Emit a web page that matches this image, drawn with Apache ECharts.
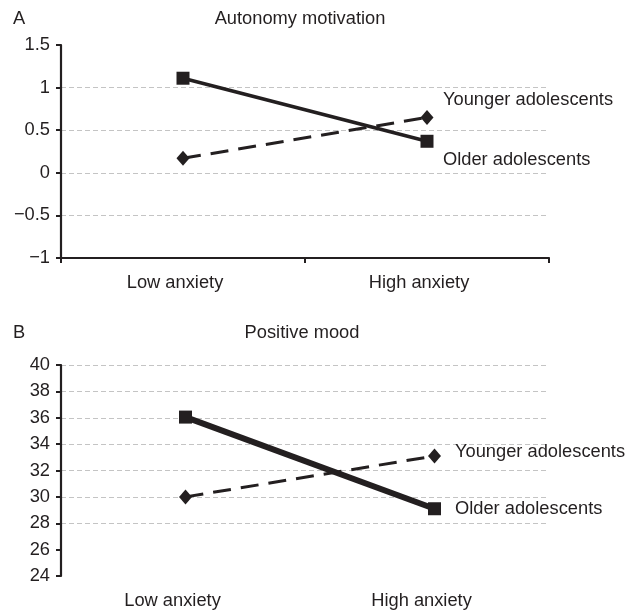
<!DOCTYPE html>
<html>
<head>
<meta charset="utf-8">
<script src="https://cdn.jsdelivr.net/npm/echarts@6/dist/echarts.min.js"></script>
<style>html,body{margin:0;padding:0;background:#fff;}#c{width:639px;height:612px;}</style>
</head>
<body>
<div id="c"></div>
<script>
// ---- data ----
const categories = ['Low anxiety', 'High anxiety'];
const seriesNames = ['Younger adolescents', 'Older adolescents'];
const panelATitle = 'Autonomy motivation';
const panelBTitle = 'Positive mood';
const autonomyYounger = [0.17, 0.65];
const autonomyOlder = [1.11, 0.37];
const moodYounger = [30.0, 33.1];
const moodOlder = [36.05, 29.1];
const autonomyTicks = { min: -1, max: 1.5, interval: 0.5 };
const autonomyGridlines = { min: -0.5, max: 1, interval: 0.5 };
const moodTicks = { min: 24, max: 40, interval: 2 };
const moodGridlines = { min: 28, max: 40, interval: 2 };

// ---- styling ----
const INK = '#231f20';
const FONT = 'Liberation Sans, Arial, sans-serif';
const FS = 18.3;
const fmtNum = v => String(v).replace('-', '\u2212');

function lineLabel(distance, dy) {
  return {
    show: true, position: 'right', distance: distance, offset: [0, dy],
    color: INK, fontFamily: FONT, fontSize: FS,
    formatter: p => p.dataIndex === categories.length - 1 ? p.seriesName : ''
  };
}

const chart = echarts.init(document.getElementById('c'), null, { renderer: 'canvas' });

const pxA = 85.2;   // px per unit panel A
const pxB = 13.1875; // px per unit panel B
const titleStyle = { fontSize: FS, fontWeight: 'normal', color: INK, fontFamily: FONT };

const option = {
  animation: false,
  backgroundColor: '#fff',
  textStyle: { fontFamily: FONT, color: INK },
  title: [
    { text: 'A', left: 13, top: 10, padding: 0, textStyle: titleStyle },
    { text: panelATitle, left: 300, top: 10, padding: 0, textAlign: 'center', textStyle: titleStyle },
    { text: 'B', left: 13, top: 324, padding: 0, textStyle: titleStyle },
    { text: panelBTitle, left: 302, top: 324, padding: 0, textAlign: 'center', textStyle: titleStyle }
  ],
  grid: [
    { left: 61, top: 45, width: 488, height: 213, containLabel: false },
    { left: 61, top: 365, width: 498, height: 211, containLabel: false },
    { left: 61, top: 45 + (autonomyTicks.max - autonomyGridlines.max) * pxA, width: 487, height: (autonomyGridlines.max - autonomyGridlines.min) * pxA },
    { left: 61, top: 365 + (moodTicks.max - moodGridlines.max) * pxB, width: 487, height: (moodGridlines.max - moodGridlines.min) * pxB }
  ],
  xAxis: [
    {
      gridIndex: 0, type: 'category', data: categories, boundaryGap: true,
      axisLine: { show: true, onZero: false, lineStyle: { color: INK, width: 2.2 } },
      axisTick: { show: true, length: 5, lineStyle: { color: INK, width: 2 } },
      axisLabel: { color: INK, fontSize: FS, fontFamily: FONT, margin: 16, padding: [0, 16, 0, 0] },
      splitLine: { show: false }
    },
    {
      gridIndex: 1, type: 'category', data: categories, boundaryGap: true,
      axisLine: { show: false, onZero: false }, axisTick: { show: false },
      axisLabel: { color: INK, fontSize: FS, fontFamily: FONT, margin: 16, padding: [0, 26, 0, 0] },
      splitLine: { show: false }
    },
    { gridIndex: 2, type: 'value', show: false, min: 0, max: 1 },
    { gridIndex: 3, type: 'value', show: false, min: 0, max: 1 }
  ],
  yAxis: [
    {
      gridIndex: 0, type: 'value', min: autonomyTicks.min, max: autonomyTicks.max, interval: autonomyTicks.interval,
      axisLine: { show: true, onZero: false, lineStyle: { color: INK, width: 2.2 } },
      axisTick: { show: true, length: 5, lineStyle: { color: INK, width: 2 } },
      axisLabel: { color: INK, fontSize: FS, fontFamily: FONT, margin: 11, formatter: fmtNum },
      splitLine: { show: false }
    },
    {
      gridIndex: 1, type: 'value', min: moodTicks.min, max: moodTicks.max, interval: moodTicks.interval,
      axisLine: { show: true, onZero: false, lineStyle: { color: INK, width: 2.2 } },
      axisTick: { show: true, length: 5, lineStyle: { color: INK, width: 2 } },
      axisLabel: { color: INK, fontSize: FS, fontFamily: FONT, margin: 11, formatter: fmtNum },
      splitLine: { show: false }
    },
    {
      gridIndex: 2, type: 'value', min: autonomyGridlines.min, max: autonomyGridlines.max, interval: autonomyGridlines.interval,
      axisLine: { show: false }, axisTick: { show: false }, axisLabel: { show: false }, z: 0,
      splitLine: { show: true, lineStyle: { color: '#c4c4c4', width: 1, type: [5, 3] } }
    },
    {
      gridIndex: 3, type: 'value', min: moodGridlines.min, max: moodGridlines.max, interval: moodGridlines.interval,
      axisLine: { show: false }, axisTick: { show: false }, axisLabel: { show: false }, z: 0,
      splitLine: { show: true, lineStyle: { color: '#c4c4c4', width: 1, type: [5, 3] } }
    }
  ],
  series: [
    {
      name: seriesNames[1], type: 'line', xAxisIndex: 0, yAxisIndex: 0, data: autonomyOlder,
      symbol: 'rect', symbolSize: 13, z: 5,
      lineStyle: { color: INK, width: 3.6 }, itemStyle: { color: INK },
      label: lineLabel(9.5, 19)
    },
    {
      name: seriesNames[0], type: 'line', xAxisIndex: 0, yAxisIndex: 0, data: autonomyYounger,
      symbol: 'diamond', symbolSize: [13, 15], z: 4,
      lineStyle: { color: INK, width: 3, type: [18, 10] }, itemStyle: { color: INK },
      label: lineLabel(9.5, -17)
    },
    {
      name: seriesNames[1], type: 'line', xAxisIndex: 1, yAxisIndex: 1, data: moodOlder,
      symbol: 'rect', symbolSize: 13, z: 5,
      lineStyle: { color: INK, width: 6 }, itemStyle: { color: INK },
      label: lineLabel(14, 0)
    },
    {
      name: seriesNames[0], type: 'line', xAxisIndex: 1, yAxisIndex: 1, data: moodYounger,
      symbol: 'diamond', symbolSize: [13, 15], z: 4,
      lineStyle: { color: INK, width: 3, type: [18, 10] }, itemStyle: { color: INK },
      label: lineLabel(14, -4)
    }
  ]
};
chart.setOption(option);
</script>
</body>
</html>
